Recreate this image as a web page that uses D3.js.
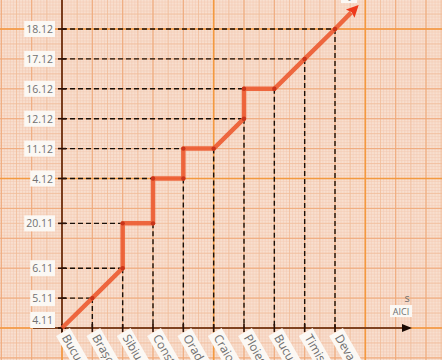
<!DOCTYPE html>
<html>
<head>
<meta charset="utf-8">
<script src="https://cdn.jsdelivr.net/npm/d3@7"></script>
<style>
body { margin: 0; background: #f7dccb; }
svg { display: block; }
</style>
</head>
<body>
<script>
//dates on the vertical axis, bottom to top
var dates = ["4.11", "5.11", "6.11", "20.11", "4.12", "11.12", "12.12", "16.12", "17.12", "18.12"];

//places on the horizontal axis, left to right
var places = ["București", "Brașov", "Sibiu", "Constanța", "Oradea", "Craiova", "Ploiești", "București", "Timișoara", "Deva"];

//route: [place index, date] in order of travel
var route = [
	[0, "4.11"], [1, "5.11"], [2, "6.11"], [2, "20.11"], [3, "20.11"], [3, "4.12"],
	[4, "4.12"], [4, "11.12"], [5, "11.12"], [6, "12.12"], [6, "16.12"], [7, "16.12"],
	[8, "17.12"], [9, "18.12"]
];

//drawing vars
var w = 442, h = 360;
var ox = 62, oy = 328; //origin of the axes

//date slots: long gaps (more than a week) get a wider step
function dayNum(s) { var p = s.split("."); return (+p[1] === 12 ? 30 : 0) + (+p[0]); }
var slot = {};
var acc = 0;
dates.forEach(function(d, i) {
	if (i > 0) acc += (dayNum(d) - dayNum(dates[i - 1]) > 7) ? 1.5 : 1;
	slot[d] = acc;
});

var xScale = d3.scaleLinear().domain([0, places.length - 1]).range([ox, 335]);
var yScale = d3.scaleLinear().domain([0, acc]).range([oy, 29]);

var svg = d3.select("body").append("svg")
	.attr("width", w)
	.attr("height", h);

//graph paper
var paper = svg.append("g");
paper.append("rect").attr("width", w).attr("height", h).attr("fill", "#f8dfcf");

function gridLines(stepX, stepY, color, width) { //draws one layer of paper lines
	d3.range(ox % stepX, w, stepX).forEach(function(x) {
		paper.append("line").attr("x1", x).attr("x2", x).attr("y1", 0).attr("y2", h)
			.attr("stroke", color).attr("stroke-width", width);
	});
	d3.range(oy % stepY, h, stepY).forEach(function(y) {
		paper.append("line").attr("y1", y).attr("y2", y).attr("x1", 0).attr("x2", w)
			.attr("stroke", color).attr("stroke-width", width);
	});
}

var step = xScale(1) - xScale(0);
var ystep = yScale(0) - yScale(1);
gridLines(step / 10, ystep / 10, "#f3c7ae", 0.5); //fine mm lines
gridLines(step / 2, ystep / 2, "#f1bb98", 0.7);
gridLines(step, ystep, "#efa878", 0.9);
gridLines(5 * step, 5 * ystep, "#f4993f", 1.6); //bright lines every five squares

//first x reached for each date, lowest date reached for each place
var firstX = {}, lowY = {};
route.forEach(function(r) {
	if (!(r[1] in firstX)) firstX[r[1]] = r[0];
	if (!(r[0] in lowY)) lowY[r[0]] = r[1];
});

var dash = "5,3";

//horizontal dashed guides
svg.append("g").selectAll("line")
	.data(dates.slice(1))
	.enter().append("line")
	.attr("x1", ox)
	.attr("x2", function(d) { return xScale(firstX[d]); })
	.attr("y1", function(d) { return yScale(slot[d]); })
	.attr("y2", function(d) { return yScale(slot[d]); })
	.attr("stroke", "#1a1008").attr("stroke-width", 1.4).attr("stroke-dasharray", dash);

//vertical dashed guides
svg.append("g").selectAll("line")
	.data(d3.range(1, places.length))
	.enter().append("line")
	.attr("x1", function(i) { return xScale(i); })
	.attr("x2", function(i) { return xScale(i); })
	.attr("y1", function(i) { return yScale(slot[lowY[i]]); })
	.attr("y2", oy)
	.attr("stroke", "#1a1008").attr("stroke-width", 1.4).attr("stroke-dasharray", dash);

//axes
svg.append("line").attr("x1", 33).attr("x2", 405).attr("y1", oy).attr("y2", oy)
	.attr("stroke", "#5a2410").attr("stroke-width", 1.6);
svg.append("path").attr("d", "M402,324 L412,328 L402,332 Z").attr("fill", "#1a0a04");
svg.append("line").attr("x1", ox).attr("x2", ox).attr("y1", 0).attr("y2", 338)
	.attr("stroke", "#5a2410").attr("stroke-width", 1.6);

//tick marks
svg.append("g").selectAll("line")
	.data(dates)
	.enter().append("line")
	.attr("x1", ox - 4).attr("x2", ox + 4)
	.attr("y1", function(d) { return yScale(slot[d]); })
	.attr("y2", function(d) { return yScale(slot[d]); })
	.attr("stroke", "#2a1006").attr("stroke-width", 1.6);
svg.append("g").selectAll("line")
	.data(d3.range(places.length))
	.enter().append("line")
	.attr("x1", function(i) { return xScale(i); })
	.attr("x2", function(i) { return xScale(i); })
	.attr("y1", oy - 4).attr("y2", oy + 4)
	.attr("stroke", "#2a1006").attr("stroke-width", 1.6);

//route line plus arrow extension
var pts = route.map(function(r) { return [xScale(r[0]), yScale(slot[r[1]])]; });
var a = pts[pts.length - 2], b = pts[pts.length - 1];
var tip = [b[0] + (b[0] - a[0]) * 0.78, b[1] + (b[1] - a[1]) * 0.8];

svg.append("path")
	.attr("d", d3.line()(pts.concat([[tip[0] - (b[0] - a[0]) * 0.25, tip[1] - (b[1] - a[1]) * 0.25]])))
	.attr("fill", "none")
	.attr("stroke", "#ec5a30")
	.attr("stroke-width", 4.5)
	.attr("stroke-linejoin", "round")
	.attr("opacity", 0.9);

var ang = Math.atan2(tip[1] - b[1], tip[0] - b[0]);
svg.append("path")
	.attr("d", "M0,0 L-12,-6 L-10,0 L-12,6 Z")
	.attr("transform", "translate(" + tip[0] + "," + tip[1] + ") rotate(" + (ang * 180 / Math.PI) + ")")
	.attr("fill", "#ee3a1c");

svg.append("g").selectAll("circle")
	.data(pts.slice(1))
	.enter().append("circle")
	.attr("cx", function(d) { return d[0]; })
	.attr("cy", function(d) { return d[1]; })
	.attr("r", 2.2)
	.attr("fill", "#c8341a");

//date labels with white boxes
var yl = svg.append("g").selectAll("g")
	.data(dates)
	.enter().append("g")
	.attr("transform", function(d) { return "translate(" + (ox - 8) + "," + (yScale(slot[d]) - (d === "4.11" ? 8 : 0)) + ")"; });
yl.append("text")
	.text(function(d) { return d; })
	.attr("text-anchor", "end")
	.attr("x", -1)
	.attr("y", 4)
	.attr("font-size", "10.5px")
	.attr("font-family", "Open Sans")
	.attr("fill", "#707070");
yl.each(function() {
	var t = d3.select(this).select("text").node().getBBox();
	d3.select(this).insert("rect", "text")
		.attr("x", t.x - 2).attr("y", t.y - 1)
		.attr("width", t.width + 4).attr("height", t.height + 2)
		.attr("fill", "#fbf8f4");
});

//place labels, rotated (the paper edge cuts them, as in the original)
var xl = svg.append("g").selectAll("g")
	.data(places)
	.enter().append("g")
	.attr("transform", function(d, i) { return "translate(" + (xScale(i) + 1) + "," + (oy + 4) + ") rotate(60)"; });
xl.append("rect")
	.attr("x", 0).attr("y", -8)
	.attr("width", 60).attr("height", 16)
	.attr("fill", "#fbf8f4");
xl.append("text")
	.text(function(d) { return d; })
	.attr("x", 4)
	.attr("y", 4)
	.attr("font-size", "12px")
	.attr("font-family", "Open Sans")
	.attr("fill", "#6e6e6e");

//axis names
svg.append("rect").attr("x", 390).attr("y", 305).attr("width", 22).attr("height", 12).attr("fill", "#fbf8f4");
svg.append("text").text("AICI").attr("x", 401).attr("y", 315).attr("text-anchor", "middle")
	.attr("font-size", "9px").attr("font-family", "Open Sans").attr("fill", "#6e6e6e");
svg.append("text").text("s").attr("x", 407).attr("y", 302).attr("text-anchor", "middle")
	.attr("font-size", "11px").attr("font-family", "Open Sans").attr("fill", "#6e6e6e");
svg.append("rect").attr("x", 341).attr("y", -10).attr("width", 16).attr("height", 13).attr("fill", "#fbf8f4");
svg.append("text").text("t").attr("x", 349).attr("y", 1).attr("text-anchor", "middle")
	.attr("font-size", "9px").attr("font-family", "Open Sans").attr("fill", "#6e6e6e");
</script>
</body>
</html>
